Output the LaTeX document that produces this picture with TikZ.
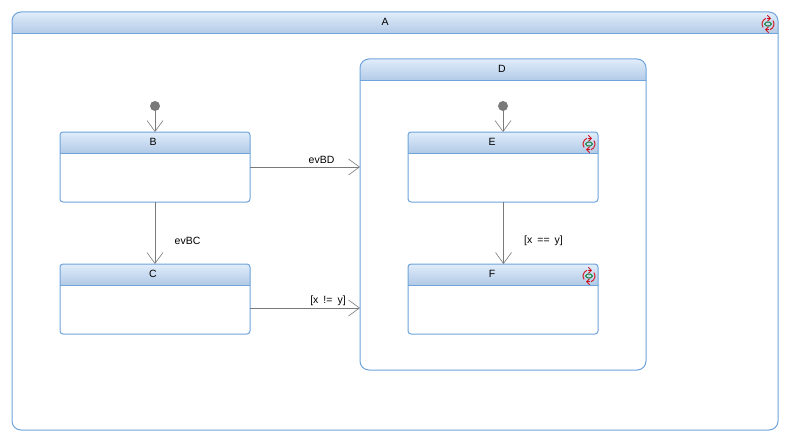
\documentclass[tikz,border=0pt]{standalone}
\usepackage{fontspec}
\setmainfont{Liberation Sans}
\usetikzlibrary{arrows.meta,calc}
\definecolor{stateblue}{HTML}{6FA3DC}
\definecolor{headtop}{HTML}{E0EDFB}
\definecolor{headbot}{HTML}{B4CBE7}
\definecolor{linkgray}{HTML}{7A7A7A}
\definecolor{iconred}{HTML}{D0101C}
\definecolor{icongreen}{HTML}{0A7A30}
\tikzset{
  statebox/.style={draw=stateblue,line width=1pt,fill=white,inner sep=0pt,outer sep=0pt},
  statetext/.style={font=\fontsize{10.5}{12}\selectfont,text=black,inner sep=0pt},
  linklabel/.style={font=\fontsize{10.5}{12}\selectfont,execute at begin node={\spaceskip=5pt\relax},text=black,inner sep=0pt},
  link/.style={draw=linkgray,line width=.8pt,-{Straight Barb[length=11pt,width=16pt,line width=.6pt]}},
  initdot/.style={circle,fill=linkgray,draw=none,minimum size=10pt,inner sep=0pt,outer sep=0pt},
  iconring/.style={iconred,line width=.9pt},
  iconhead/.style={iconred,line width=.9pt,-{Straight Barb[length=3pt,width=6pt,line width=.9pt]}},
}
% name, x1, y1, x2, y2, header height, corner radius
\newcommand{\stbox}[7]{%
  \pgfmathsetmacro{\boxw}{#4-#2}\pgfmathsetmacro{\boxh}{#5-#3}%
  \pgfmathsetmacro{\boxcx}{(#2+#4)/2}\pgfmathsetmacro{\boxcy}{(#3+#5)/2}%
  \pgfmathsetmacro{\headl}{-\boxw/2-2}\pgfmathsetmacro{\headr}{\boxw/2+2}\pgfmathsetmacro{\headt}{-\boxh/2}%
  \pgfmathtruncatemacro{\lastrow}{#6-1}%
  \node[statebox,rounded corners=#7pt,minimum width=\boxw pt,minimum height=\boxh pt,
    path picture={
      \foreach \k in {0,...,\lastrow}{
        \pgfmathsetmacro{\pc}{100-100*\k/\lastrow}
        \fill[sharp corners,headtop!\pc!headbot] (\headl,\headt+\k) rectangle (\headr,\headt+\k+1.3);
      }
      \fill[sharp corners,white] (\headl,\headt+#6) rectangle (\headr,\headt+#6+2);
      \draw[sharp corners,stateblue,line width=1pt] (\headl,\headt+#6) -- (\headr,\headt+#6);
    }] (#1) at (\boxcx,\boxcy) {};%
}
\newcommand{\loopicon}[2]{%
  \begin{scope}[shift={(#1,#2)},yscale=-1]
    \draw[iconring] (-2,5.7) arc[start angle=110,end angle=215,radius=6];
    \draw[iconring] (2,-5.7) arc[start angle=-70,end angle=35,radius=6];
    \draw[iconhead] (-1,5.7) -- (3,5.7);
    \draw[iconhead] (1,-5.7) -- (-3,-5.7);
    \draw[icongreen,line width=1pt,rounded corners=1.8pt] (-3.5,-1.8) rectangle (3.5,1.8);
  \end{scope}%
}
\begin{document}
\begin{tikzpicture}[x=1pt,y=-1pt]
\useasboundingbox (0,0) rectangle (789,441);
\fill[white] (0,0) rectangle (789,441);
\stbox{A}{12}{12}{778}{430}{22}{9}
\stbox{D}{360}{59}{646}{370}{22}{9}
\stbox{B}{60}{132}{250}{202}{21}{3}
\stbox{C}{60}{264}{250}{334}{21}{3}
\stbox{E}{408}{132}{598}{202}{21}{3}
\stbox{F}{408}{264}{598}{334}{21}{3}
\node[statetext] (tA) at (385,22) {A};
\node[statetext] (tD) at (502,69) {D};
\node[statetext] (tB) at (153,142) {B};
\node[statetext] (tC) at (153,274) {C};
\node[statetext] (tE) at (492,142) {E};
\node[statetext] (tF) at (492,274) {F};
\loopicon{768}{24}
\loopicon{589}{144}
\loopicon{589}{276}
\node[initdot] (i1) at (155,106) {};
\node[initdot] (i2) at (503,106) {};
\coordinate (cOut) at (250,308);
\coordinate (dIn) at (360,308);
\coordinate (bc) at (155,202);
\coordinate (bcEnd) at (155,264);
\coordinate (ef) at (503.5,202);
\coordinate (efEnd) at (503.5,264);
\draw[link] (i1) -- (B.north);
\draw[link] (i2.center) -- (E.north);
\draw[link] (B.east) -- (B.east -| D.west);
\draw[link] (cOut) -- (dIn);
\draw[link] (bc) -- (bcEnd);
\draw[link] (ef) -- (efEnd);
\node[linklabel] (l1) at (321.5,160) {evBD};
\node[linklabel] (l2) at (328,301) {[x != y]};
\node[linklabel] (l3) at (187.5,241) {evBC};
\node[linklabel] (l4) at (543.5,241) {[x == y]};
\end{tikzpicture}
\end{document}
